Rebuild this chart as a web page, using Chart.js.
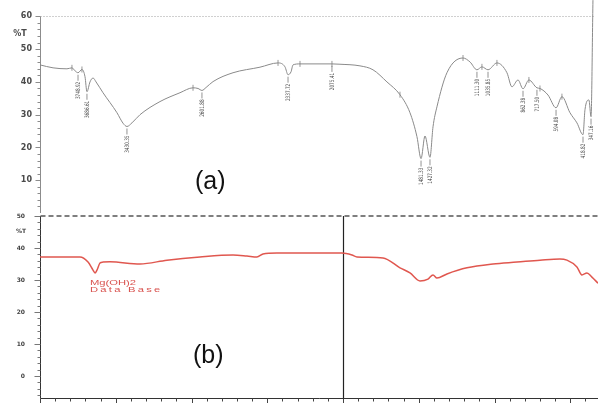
<!DOCTYPE html>
<html>
<head>
<meta charset="utf-8">
<script src="https://cdn.jsdelivr.net/npm/chart.js@4.4.0/dist/chart.umd.min.js"></script>
<style>
    body { margin: 0; background: #fff; }
    #wrap { position: relative; width: 598px; height: 403px; overflow: hidden; background: #fff; }
    canvas { position: absolute; left: 0; }
    #chartA { top: 0; }
    #chartB { top: 213px; }
    .tag { position: absolute; font-family: "Liberation Sans", Arial, sans-serif; font-size: 25px; color: #111; line-height: 1; }
</style>
</head>
<body>
<div id="wrap">
    <canvas id="chartA" width="598" height="213"></canvas>
    <canvas id="chartB" width="598" height="190"></canvas>
    <div class="tag" style="left:195px; top:168px;">(a)</div>
    <div class="tag" style="left:193px; top:342px;">(b)</div>
</div>
<script>
// (a) phổ mẫu: số sóng (cm-1) và %T
const wnA = [4000, 3914, 3822, 3789, 3769, 3749, 3723, 3703, 3690, 3670, 3650, 3630, 3584, 3492, 3452, 3426, 3393, 3340, 3208, 3076,
    2990, 2957, 2931, 2904, 2858, 2726, 2548, 2429, 2383, 2363, 2343, 2330, 2284, 2073, 2020, 1888, 1802, 1710, 1624, 1558,
    1512, 1485, 1459, 1426, 1406, 1380, 1314, 1208, 1162, 1116, 1083, 1043, 984, 918, 885, 845, 812, 773, 720, 700,
    647, 594, 555, 502, 456, 416, 403, 377, 363, 350];
const tA = [45.2, 44.3, 44.0, 44.3, 43.4, 42.8, 43.8, 41.6, 37.0, 40.0, 41.2, 40.0, 36.7, 30.6, 27.4, 26.4, 27.5, 30.0, 34.0, 36.7,
    38.2, 38.0, 37.4, 38.3, 40.1, 42.8, 44.5, 45.8, 44.6, 42.2, 43.1, 45.2, 45.5, 45.5, 45.4, 44.9, 43.7, 40.0, 36.1, 30.6,
    23.3, 16.6, 23.5, 17.0, 26.3, 32.4, 42.8, 47.3, 46.1, 43.7, 44.6, 43.7, 45.8, 42.8, 38.5, 40.6, 37.9, 40.6, 38.2, 38.0,
    36.0, 32.1, 35.5, 30.6, 27.5, 23.9, 31.5, 34.5, 29.4, 66];

// nhãn đỉnh hấp thụ
const peakWn = [3749, 3690, 3426, 2931, 2363, 2073, 1485, 1426, 1116, 1043, 812, 720, 594, 416, 363];
const peakText = ['3748.92', '3686.61', '3430.35', '2601.88', '2337.72', '2075.41', '1481.33', '1427.32',
    '1111.30', '1035.85', '862.38', '717.50', '594.08', '418.82', '347.16'];
const markWn = [3789, 3723, 2990, 2429, 2284, 2073, 1624, 1208, 1083, 984, 773, 700, 555];

// (b) Mg(OH)2 chuẩn
const wnB = [4000, 3736, 3683, 3650, 3637, 3624, 3604, 3584, 3538, 3340, 3162, 2944, 2726, 2634, 2568, 2528, 2436, 2284, 2007, 1941,
    1908, 1736, 1624, 1558, 1492, 1439, 1406, 1380, 1314, 1182, 1010, 852, 700, 568, 522, 456, 423, 390, 357, 317];
const tB = [37.2, 37.2, 35.6, 33.1, 32.2, 33.1, 35.3, 35.6, 35.7, 35.0, 36.2, 37.2, 37.8, 37.5, 37.2, 38.1, 38.4, 38.4, 38.4, 37.8,
    37.2, 36.9, 33.8, 32.2, 29.7, 30.3, 31.6, 30.6, 31.9, 33.8, 35.0, 35.6, 36.2, 36.6, 36.2, 34.1, 31.6, 32.2, 30.9, 29.0];

const yTicksA = [10, 20, 30, 40, 50, 60];
const yTicksB = [0, 10, 20, 30, 40, 50];
const xTicksB = [4000, 3500, 3000, 2500, 2000, 1500, 1000, 500];

function valueAtA(wn) {
    return tA[wnA.indexOf(wn)];
}

const axisA = {
    id: 'axisA',
    beforeDatasetsDraw(chart) {
        const { ctx, chartArea, scales: { x, y } } = chart;
        const ax = chartArea.left + 0.5;
        const y60 = Math.round(y.getPixelForValue(60)) + 0.5;
        ctx.save();
        ctx.lineWidth = 1;
        ctx.strokeStyle = '#a0a0a0';
        ctx.setLineDash([1, 2]);
        ctx.beginPath(); ctx.moveTo(ax, y60); ctx.lineTo(x.getPixelForValue(335), y60); ctx.stroke();
        ctx.setLineDash([]);
        ctx.strokeStyle = '#8c8c8c';
        ctx.beginPath(); ctx.moveTo(ax, y60); ctx.lineTo(ax, chartArea.bottom); ctx.stroke();
        for (let v = 2; v <= 60; v += 2) {
            const py = Math.round(y.getPixelForValue(v)) + 0.5;
            const len = v % 10 === 0 ? 5 : 3;
            ctx.beginPath(); ctx.moveTo(ax - len, py); ctx.lineTo(ax, py); ctx.stroke();
        }
        ctx.fillStyle = '#4a4a4a';
        ctx.font = 'bold 8px "DejaVu Sans"';
        ctx.textAlign = 'right';
        ctx.textBaseline = 'middle';
        yTicksA.forEach(v => ctx.fillText(String(v), 32, y.getPixelForValue(v)));
        ctx.textAlign = 'center';
        ctx.fillText('%T', 20, 34);
        ctx.restore();
    },
    afterDatasetsDraw(chart) {
        const { ctx, scales: { x, y } } = chart;
        ctx.save();
        ctx.lineWidth = 0.8;
        ctx.strokeStyle = '#808080';
        markWn.forEach(wn => {
            const px = x.getPixelForValue(wn), py = y.getPixelForValue(valueAtA(wn));
            ctx.beginPath(); ctx.moveTo(px, py - 3); ctx.lineTo(px, py + 3); ctx.stroke();
        });
        peakWn.forEach((wn, i) => {
            const px = x.getPixelForValue(wn), py = y.getPixelForValue(valueAtA(wn));
            ctx.strokeStyle = '#777';
            ctx.beginPath(); ctx.moveTo(px, py + 2); ctx.lineTo(px, py + 8); ctx.stroke();
            ctx.save();
            ctx.translate(px, py + 9);
            ctx.rotate(-Math.PI / 2);
            ctx.scale(0.7, 1);
            ctx.fillStyle = '#444';
            ctx.font = '6px "DejaVu Sans"';
            ctx.textAlign = 'right';
            ctx.textBaseline = 'middle';
            ctx.fillText(peakText[i], 0, 0);
            ctx.restore();
        });
        ctx.restore();
    }
};

const axisB = {
    id: 'axisB',
    beforeDatasetsDraw(chart) {
        const { ctx, chartArea, scales: { x, y } } = chart;
        const ax = chartArea.left + 0.5;
        const top = y.getPixelForValue(50);
        const bottom = Math.round(chartArea.bottom) + 0.5;
        ctx.save();
        // đường đứt nét trên cùng
        ctx.strokeStyle = '#555';
        ctx.lineWidth = 1.5;
        ctx.setLineDash([5, 3]);
        ctx.beginPath(); ctx.moveTo(ax, top); ctx.lineTo(chartArea.right, top); ctx.stroke();
        ctx.setLineDash([]);
        ctx.lineWidth = 1;
        ctx.strokeStyle = '#333';
        ctx.beginPath(); ctx.moveTo(ax, top); ctx.lineTo(ax, bottom); ctx.lineTo(chartArea.right, bottom); ctx.stroke();
        // vạch chia trục y
        ctx.strokeStyle = '#777';
        for (let v = -6; v <= 50; v += 2) {
            const py = Math.round(y.getPixelForValue(v)) + 0.5;
            const len = v % 10 === 0 ? 6 : 3;
            ctx.beginPath(); ctx.moveTo(ax - len, py); ctx.lineTo(ax, py); ctx.stroke();
        }
        // vạch chia trục x
        ctx.strokeStyle = '#444';
        for (let v = 4000; v >= 400; v -= 100) {
            const px = Math.round(x.getPixelForValue(v)) + 0.5;
            const len = xTicksB.includes(v) ? 5 : 3;
            ctx.beginPath(); ctx.moveTo(px, bottom); ctx.lineTo(px, bottom + len); ctx.stroke();
        }
        // đường dọc ở 2000
        const x2000 = Math.round(x.getPixelForValue(2000)) + 0.5;
        ctx.strokeStyle = '#222';
        ctx.lineWidth = 1.2;
        ctx.beginPath(); ctx.moveTo(x2000, top); ctx.lineTo(x2000, bottom); ctx.stroke();

        ctx.fillStyle = '#444';
        ctx.font = 'bold 6px "DejaVu Sans"';
        ctx.textAlign = 'right';
        ctx.textBaseline = 'middle';
        yTicksB.forEach(v => ctx.fillText(String(v), 25, y.getPixelForValue(v)));
        ctx.textAlign = 'center';
        ctx.fillText('%T', 21, 18.5);
        ctx.restore();
    },
    afterDatasetsDraw(chart) {
        const { ctx } = chart;
        ctx.save();
        ctx.fillStyle = '#d9534f';
        ctx.font = '8px "Liberation Sans"';
        ctx.textBaseline = 'alphabetic';
        ctx.translate(90, 0);
        ctx.scale(1.4, 1);
        ctx.fillText('Mg(OH)2', 0, 72);
        ctx.letterSpacing = '1.6px';
        ctx.fillText('Data Base', 0, 79);
        ctx.restore();
    }
};

function makeChart(id, wn, t, color, width, yMin, yMax, plugin) {
    const ctx = document.getElementById(id).getContext('2d');
    return new Chart(ctx, {
        type: 'line',
        data: {
            datasets: [{
                data: wn.map((w, i) => ({ x: w, y: t[i] })),
                borderColor: color,
                borderWidth: width,
                pointRadius: 0,
                fill: false,
                cubicInterpolationMode: 'monotone'
            }]
        },
        options: {
            responsive: false,
            animation: false,
            devicePixelRatio: 1,
            layout: { padding: { left: 40, right: 0, top: 0, bottom: id === 'chartB' ? 5 : 0 } },
            plugins: { legend: { display: false }, tooltip: { enabled: false } },
            scales: {
                x: { type: 'linear', reverse: true, min: 317, max: 4000, display: false },
                y: { min: yMin, max: yMax, display: false }
            }
        },
        plugins: [plugin]
    });
}

makeChart('chartA', wnA, tA, '#8a8a8a', 1, 0, 65, axisA);
makeChart('chartB', wnB, tB, '#e0574f', 1.5, -6.875, 50.9375, axisB);
</script>
</body>
</html>
